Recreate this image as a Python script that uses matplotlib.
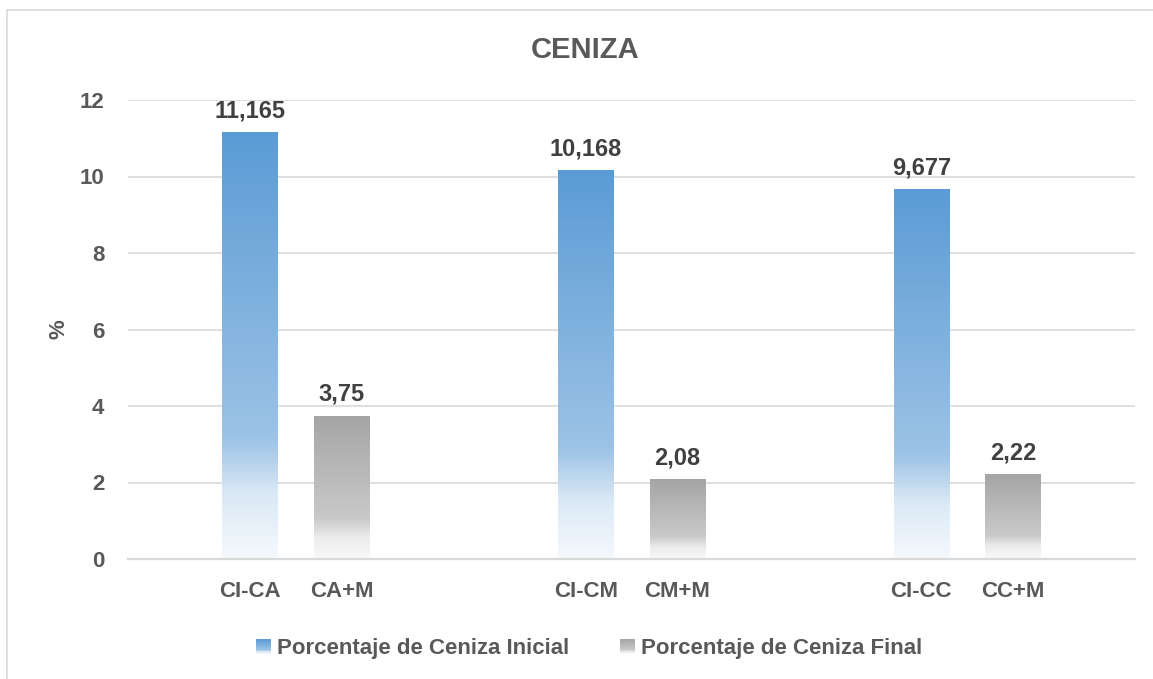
import numpy as np
import matplotlib
matplotlib.use("Agg")
import matplotlib.pyplot as plt
import matplotlib.patches as patches
from matplotlib.legend_handler import HandlerBase
from matplotlib.image import BboxImage
from matplotlib.transforms import Bbox, TransformedBbox
from matplotlib.colors import to_rgb

# --- data ---
groups = ["CA", "CM", "CC"]
inicial_labels = ["CI-CA", "CI-CM", "CI-CC"]
final_labels = ["CA+M", "CM+M", "CC+M"]
ceniza_inicial = [11.165, 10.168, 9.677]
ceniza_final = [3.75, 2.08, 2.22]
inicial_text = ["11,165", "10,168", "9,677"]
final_text = ["3,75", "2,08", "2,22"]

BLUE = "#5B9BD5"
GRAY = "#A5A5A5"
TXT = "#595959"
FONT = ["Liberation Sans Narrow", "Liberation Sans", "DejaVu Sans"]

plt.rcParams["font.family"] = FONT
plt.rcParams["font.weight"] = "bold"


def gradient(color, n=256):
    """Excel-ish top->bottom fade to white, returns (n,1,3) array."""
    base = np.array(to_rgb(color))
    white = np.ones(3)
    pos = np.linspace(0, 1, n)
    stops = [0.0, 0.72, 0.85, 1.0]
    tint = [0.0, 0.40, 0.78, 0.94]
    t = np.interp(pos, stops, tint)
    arr = base[None, :] * (1 - t[:, None]) + white[None, :] * t[:, None]
    return arr[:, None, :]


def shade_bars(ax, bars, color):
    img = gradient(color)
    for b in bars:
        x0, y0 = b.get_x(), b.get_y()
        w, h = b.get_width(), b.get_height()
        im = ax.imshow(img, extent=[x0, x0 + w, y0, y0 + h], aspect="auto",
                       origin="upper", zorder=2, interpolation="bilinear")
        im.set_clip_path(b)
        b.set_facecolor("none")
        b.set_edgecolor("none")


class GradientHandler(HandlerBase):
    def __init__(self, color):
        super().__init__()
        self.color = color

    def create_artists(self, legend, orig_handle, xdescent, ydescent,
                       width, height, fontsize, trans):
        bb = Bbox.from_bounds(-xdescent, -ydescent, width, height)
        tbb = TransformedBbox(bb, trans)
        im = BboxImage(tbb, interpolation="bilinear")
        im.set_data(gradient(self.color, 64))
        return [im]


fig = plt.figure(figsize=(11.53, 6.79), dpi=100)
ax = fig.add_axes([128 / 1153, 1 - 559 / 679, (1135 - 128) / 1153, (559 - 100) / 679])

x = np.arange(len(groups))
off = 0.1365
bw = 0.164

bars_i = ax.bar(x - off, ceniza_inicial, width=bw, zorder=2)
bars_f = ax.bar(x + off, ceniza_final, width=bw, zorder=2)
shade_bars(ax, bars_i, BLUE)
shade_bars(ax, bars_f, GRAY)

for xi, v, t in zip(x - off, ceniza_inicial, inicial_text):
    ax.annotate(t, (xi, v), xytext=(0, 7), textcoords="offset points",
                ha="center", va="bottom", fontsize=17, color="#404040",
                fontweight="bold")
for xi, v, t in zip(x + off, ceniza_final, final_text):
    ax.annotate(t, (xi, v), xytext=(0, 7), textcoords="offset points",
                ha="center", va="bottom", fontsize=17, color="#404040",
                fontweight="bold")

ax.set_xlim(-0.5, len(groups) - 0.5)
ax.set_ylim(0, 12)
ax.set_yticks(range(0, 13, 2))
ax.grid(axis="y", color="#D9D9D9", lw=1.2, zorder=0)
ax.set_axisbelow(True)

ticks = np.concatenate([x - off, x + off])
labels = inicial_labels + final_labels
ax.set_xticks(ticks)
ax.set_xticklabels(labels)
ax.tick_params(axis="both", length=0, labelsize=16, labelcolor=TXT)
ax.tick_params(axis="x", pad=16)
ax.tick_params(axis="y", pad=17)

for s in ["top", "right", "left"]:
    ax.spines[s].set_visible(False)
ax.spines["bottom"].set_color("#D9D9D9")
ax.spines["bottom"].set_linewidth(1.6)

ax.set_ylabel("%", fontsize=16, color=TXT, fontweight="bold")
ax.yaxis.set_label_coords(-0.058, 0.5)

fig.text(0.507, 0.926, "CENIZA", ha="center", va="center", fontsize=21,
         color=TXT, fontweight="bold", family=["Liberation Sans", "DejaVu Sans"])

# outer chart border (only left/top visible in the crop)
fig.patches.append(patches.Rectangle((7 / 1153, -0.1), 1.2, 1.1 - 10 / 679,
                                     transform=fig.transFigure, fill=False,
                                     edgecolor="#D9D9D9", lw=1.2))

h1 = patches.Rectangle((0, 0), 1, 1)
h2 = patches.Rectangle((0, 0), 1, 1)
fig.legend([h1, h2], ["Porcentaje de Ceniza Inicial", "Porcentaje de Ceniza Final"],
           handler_map={h1: GradientHandler(BLUE), h2: GradientHandler(GRAY)},
           loc="center", bbox_to_anchor=(0.511, 0.045), ncol=2, frameon=False,
           fontsize=16, labelcolor=TXT, handlelength=0.65, handleheight=0.65,
           handletextpad=0.3, columnspacing=2.3)

fig.savefig("out.png", dpi=100)
